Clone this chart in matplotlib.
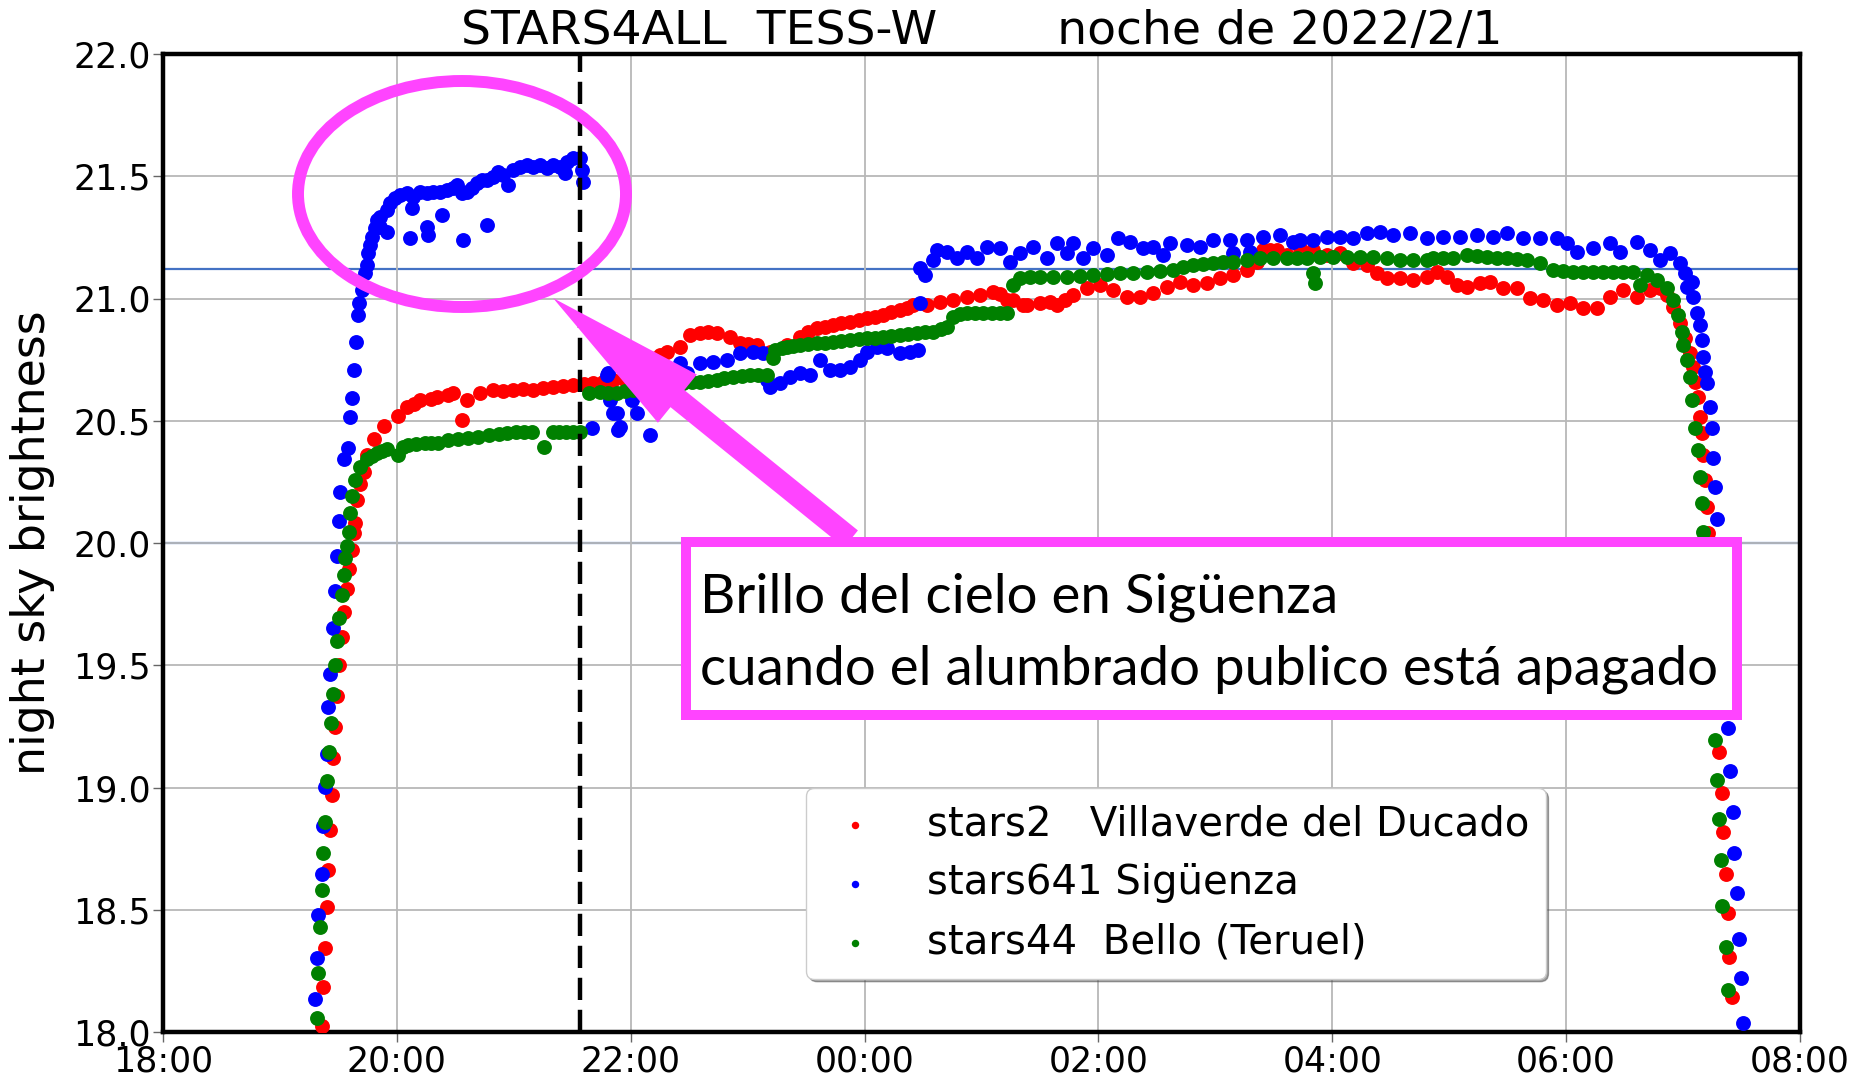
import matplotlib
matplotlib.use("Agg")
import matplotlib.pyplot as plt
from matplotlib.patches import Ellipse, Rectangle, FancyArrow
from matplotlib.transforms import IdentityTransform

# hours on a continuous scale: 24 = midnight, 32 = 08:00 next day
blue_t = [19.299, 19.313, 19.328, 19.356, 19.371, 19.385, 19.400, 19.414, 19.429, 19.457,
          19.472, 19.486, 19.501, 19.515, 19.544, 19.585, 19.599, 19.614, 19.633, 19.650,
          19.671, 19.679, 19.699, 19.728, 19.742, 19.756, 19.770, 19.785, 19.813, 19.827,
          19.856, 19.856, 19.913, 19.913, 19.941, 19.984, 20.027, 20.084, 20.112, 20.126,
          20.141, 20.198, 20.255, 20.255, 20.269, 20.312, 20.369, 20.383, 20.426, 20.483,
          20.511, 20.554, 20.568, 20.597, 20.640, 20.682, 20.725, 20.768, 20.768, 20.825,
          20.868, 20.910, 20.953, 20.996, 21.053, 21.110, 21.167, 21.224, 21.281, 21.338,
          21.395, 21.438, 21.452, 21.509, 21.566, 21.580, 21.594,
          21.666, 21.794, 21.808, 21.823, 21.851, 21.880, 21.894, 21.908, 22.008, 22.051,
          22.165, 22.421, 22.479, 22.593, 22.707, 22.821, 22.935, 23.049, 23.134, 23.163,
          23.191, 23.277, 23.362, 23.448, 23.533, 23.619, 23.704, 23.790, 23.875, 23.961,
          24.018, 24.103, 24.189, 24.303, 24.388, 24.460, 24.474, 24.474, 24.517, 24.588,
          24.616, 24.702, 24.788, 24.873, 24.959, 25.044, 25.158, 25.244, 25.329, 25.443,
          25.557, 25.643, 25.728, 25.785, 25.871, 25.956, 26.070, 26.170, 26.270, 26.384,
          26.469, 26.555, 26.612, 26.754, 26.868, 26.982, 27.125, 27.153, 27.268, 27.296,
          27.410, 27.552, 27.667, 27.724, 27.838, 27.952, 28.066, 28.180, 28.294, 28.408,
          28.522, 28.665, 28.807, 28.950, 29.092, 29.235, 29.377, 29.491, 29.634, 29.776,
          29.919, 30.004, 30.090, 30.232, 30.375, 30.460, 30.603, 30.717, 30.802, 30.888,
          30.973, 31.016, 31.030, 31.073, 31.087, 31.116, 31.145, 31.159, 31.173, 31.187,
          31.202, 31.230, 31.244, 31.259, 31.273, 31.293, 31.387, 31.401, 31.424, 31.438,
          31.458, 31.478, 31.492, 31.515]
blue_v = [18.133, 18.302, 18.479, 18.648, 18.841, 19.002, 19.137, 19.331, 19.465, 19.651,
          19.803, 19.946, 20.089, 20.207, 20.342, 20.387, 20.517, 20.592, 20.708, 20.824,
          20.933, 20.980, 21.035, 21.103, 21.137, 21.185, 21.219, 21.253, 21.287, 21.321,
          21.335, 21.294, 21.362, 21.273, 21.389, 21.410, 21.423, 21.430, 21.246, 21.369,
          21.417, 21.437, 21.430, 21.294, 21.260, 21.437, 21.437, 21.342, 21.444, 21.451,
          21.464, 21.430, 21.239, 21.437, 21.451, 21.471, 21.485, 21.485, 21.301, 21.498,
          21.519, 21.505, 21.464, 21.526, 21.539, 21.546, 21.539, 21.546, 21.532, 21.546,
          21.539, 21.512, 21.560, 21.573, 21.573, 21.526, 21.478,
          20.469, 20.687, 20.694, 20.585, 20.530, 20.530, 20.462, 20.476, 20.585, 20.530,
          20.442, 20.735, 20.694, 20.735, 20.742, 20.749, 20.776, 20.783, 20.776, 20.667,
          20.640, 20.653, 20.680, 20.694, 20.687, 20.749, 20.708, 20.708, 20.721, 20.749,
          20.783, 20.803, 20.796, 20.776, 20.783, 20.789, 20.980, 21.123, 21.096, 21.158,
          21.198, 21.192, 21.164, 21.192, 21.164, 21.212, 21.205, 21.151, 21.185, 21.212,
          21.164, 21.226, 21.185, 21.226, 21.164, 21.205, 21.178, 21.246, 21.233, 21.205,
          21.212, 21.178, 21.226, 21.219, 21.212, 21.239, 21.239, 21.185, 21.239, 21.192,
          21.253, 21.260, 21.233, 21.239, 21.239, 21.253, 21.253, 21.246, 21.267, 21.273,
          21.260, 21.267, 21.246, 21.253, 21.253, 21.260, 21.253, 21.267, 21.246, 21.246,
          21.246, 21.226, 21.192, 21.205, 21.226, 21.192, 21.233, 21.198, 21.158, 21.185,
          21.144, 21.103, 21.048, 21.069, 21.008, 20.939, 20.892, 20.830, 20.762, 20.701,
          20.653, 20.558, 20.469, 20.346, 20.230, 20.097, 19.242, 19.067, 18.898, 18.731,
          18.567, 18.379, 18.220, 18.038]

red_t = [19.356, 19.371, 19.385, 19.400, 19.414, 19.429, 19.443, 19.457, 19.472, 19.486,
         19.509, 19.530, 19.544, 19.573, 19.587, 19.616, 19.631, 19.645, 19.659, 19.688,
         19.717, 19.746, 19.804, 19.890, 20.006, 20.084, 20.150, 20.198, 20.294, 20.340,
         20.439, 20.483, 20.554, 20.597, 20.711, 20.825, 20.910, 20.996, 21.080, 21.167,
         21.250, 21.338, 21.420, 21.509, 21.600, 21.680, 21.760, 21.851, 21.940, 22.022,
         22.165, 22.250, 22.307, 22.421, 22.507, 22.593, 22.660, 22.735, 22.849, 22.935,
         23.000, 23.077, 23.191, 23.334, 23.448, 23.520, 23.590, 23.660, 23.733, 23.800,
         23.875, 23.950, 24.018, 24.090, 24.160, 24.230, 24.303, 24.360, 24.417, 24.531,
         24.645, 24.759, 24.873, 24.987, 25.101, 25.158, 25.215, 25.272, 25.358, 25.386,
         25.500, 25.586, 25.643, 25.715, 25.785, 25.899, 26.013, 26.127, 26.241, 26.355,
         26.469, 26.583, 26.697, 26.811, 26.925, 27.039, 27.153, 27.268, 27.353, 27.410,
         27.470, 27.524, 27.610, 27.724, 27.838, 27.952, 28.066, 28.180, 28.294, 28.379,
         28.465, 28.579, 28.693, 28.807, 28.893, 28.978, 29.064, 29.149, 29.263, 29.349,
         29.463, 29.577, 29.691, 29.805, 29.919, 30.033, 30.147, 30.261, 30.375, 30.489,
         30.603, 30.717, 30.802, 30.859, 30.917, 30.973, 31.016, 31.059, 31.087, 31.102,
         31.130, 31.145, 31.159, 31.173, 31.187, 31.202, 31.216, 31.310, 31.330, 31.344,
         31.364, 31.381, 31.395, 31.415]
red_v = [18.024, 18.184, 18.344, 18.513, 18.664, 18.825, 18.968, 19.120, 19.246, 19.373,
         19.499, 19.617, 19.718, 19.811, 19.895, 19.971, 20.039, 20.081, 20.174, 20.241,
         20.292, 20.359, 20.427, 20.477, 20.519, 20.558, 20.570, 20.585, 20.590, 20.599,
         20.605, 20.612, 20.503, 20.585, 20.612, 20.626, 20.620, 20.626, 20.630, 20.626,
         20.635, 20.640, 20.642, 20.646, 20.650, 20.653, 20.660, 20.667, 20.672, 20.700,
         20.755, 20.770, 20.783, 20.803, 20.851, 20.858, 20.862, 20.858, 20.844, 20.817,
         20.812, 20.810, 20.783, 20.810, 20.844, 20.862, 20.878, 20.885, 20.892, 20.898,
         20.905, 20.912, 20.919, 20.926, 20.933, 20.943, 20.953, 20.963, 20.974, 20.974,
         20.987, 20.994, 21.008, 21.014, 21.028, 21.020, 20.994, 20.994, 20.974, 20.973,
         20.980, 20.987, 20.973, 20.995, 21.014, 21.042, 21.055, 21.035, 21.008, 21.008,
         21.021, 21.048, 21.069, 21.055, 21.062, 21.083, 21.096, 21.117, 21.151, 21.198,
         21.200, 21.198, 21.178, 21.205, 21.198, 21.178, 21.185, 21.144, 21.137, 21.103,
         21.083, 21.083, 21.076, 21.089, 21.110, 21.089, 21.055, 21.048, 21.062, 21.069,
         21.042, 21.042, 21.001, 20.994, 20.973, 20.980, 20.960, 20.960, 21.008, 21.035,
         21.008, 21.035, 21.042, 21.014, 20.967, 20.898, 20.837, 20.776, 20.721, 20.660,
         20.599, 20.517, 20.449, 20.360, 20.258, 20.149, 20.040, 19.147, 18.976, 18.819,
         18.646, 18.485, 18.308, 18.145]

green_t = [19.313, 19.328, 19.342, 19.356, 19.371, 19.385, 19.405, 19.420, 19.434, 19.452,
           19.472, 19.492, 19.509, 19.530, 19.544, 19.558, 19.573, 19.587, 19.602, 19.616,
           19.645, 19.688, 19.746, 19.790, 19.833, 19.876, 19.919, 20.006, 20.050, 20.092,
           20.165, 20.237, 20.295, 20.352, 20.440, 20.525, 20.610, 20.698, 20.785, 20.872,
           20.945, 21.016, 21.090, 21.160, 21.261, 21.333, 21.390, 21.449, 21.510, 21.564,
           21.640, 21.737, 21.810, 21.880, 21.950, 22.022, 22.090, 22.165, 22.235, 22.307,
           22.380, 22.450, 22.520, 22.593, 22.660, 22.735, 22.800, 22.878, 22.950, 23.020,
           23.090, 23.163, 23.220, 23.234, 23.290, 23.334, 23.390, 23.448, 23.520, 23.590,
           23.660, 23.733, 23.800, 23.875, 23.950, 24.018, 24.090, 24.160, 24.230, 24.303,
           24.370, 24.445, 24.520, 24.588, 24.650, 24.702, 24.759, 24.815, 24.873, 24.945,
           25.016, 25.090, 25.158, 25.215, 25.272, 25.329, 25.415, 25.500, 25.614, 25.728,
           25.842, 25.956, 26.070, 26.184, 26.298, 26.412, 26.526, 26.640, 26.725, 26.811,
           26.896, 26.982, 27.068, 27.153, 27.267, 27.381, 27.495, 27.610, 27.695, 27.781,
           27.838, 27.852, 27.895, 28.009, 28.123, 28.237, 28.351, 28.465, 28.579, 28.693,
           28.807, 28.864, 28.950, 29.035, 29.149, 29.235, 29.320, 29.405, 29.491, 29.576,
           29.662, 29.776, 29.890, 29.975, 30.061, 30.146, 30.232, 30.318, 30.403, 30.489,
           30.575, 30.631, 30.688, 30.774, 30.859, 30.917, 30.959, 30.988, 31.002, 31.030,
           31.059, 31.073, 31.102, 31.125, 31.145, 31.159, 31.173, 31.273, 31.293, 31.307,
           31.324, 31.336, 31.367, 31.381]
green_v = [18.057, 18.243, 18.428, 18.580, 18.732, 18.858, 19.027, 19.145, 19.263, 19.381,
           19.499, 19.600, 19.693, 19.786, 19.870, 19.938, 19.988, 20.047, 20.123, 20.191,
           20.258, 20.309, 20.342, 20.356, 20.368, 20.376, 20.384, 20.359, 20.392, 20.401,
           20.405, 20.410, 20.410, 20.410, 20.420, 20.427, 20.430, 20.435, 20.440, 20.444,
           20.448, 20.452, 20.452, 20.452, 20.393, 20.452, 20.452, 20.452, 20.455, 20.452,
           20.615, 20.619, 20.615, 20.612, 20.620, 20.626, 20.630, 20.633, 20.637, 20.640,
           20.647, 20.653, 20.657, 20.660, 20.663, 20.667, 20.673, 20.680, 20.684, 20.687,
           20.687, 20.687, 20.755, 20.789, 20.798, 20.803, 20.806, 20.810, 20.814, 20.817,
           20.820, 20.824, 20.827, 20.830, 20.834, 20.837, 20.840, 20.844, 20.848, 20.851,
           20.855, 20.858, 20.862, 20.865, 20.875, 20.885, 20.926, 20.935, 20.940, 20.940,
           20.940, 20.940, 20.940, 20.939, 21.055, 21.083, 21.086, 21.089, 21.089, 21.089,
           21.093, 21.096, 21.100, 21.103, 21.106, 21.110, 21.113, 21.117, 21.127, 21.137,
           21.140, 21.144, 21.148, 21.151, 21.158, 21.164, 21.164, 21.164, 21.164, 21.164,
           21.103, 21.062, 21.171, 21.171, 21.171, 21.171, 21.171, 21.165, 21.158, 21.158,
           21.158, 21.164, 21.164, 21.164, 21.178, 21.174, 21.171, 21.167, 21.164, 21.161,
           21.158, 21.144, 21.117, 21.113, 21.110, 21.110, 21.110, 21.110, 21.110, 21.110,
           21.110, 21.055, 21.096, 21.076, 21.042, 20.994, 20.933, 20.864, 20.810, 20.749,
           20.680, 20.585, 20.469, 20.380, 20.271, 20.162, 20.046, 19.194, 19.031, 18.870,
           18.704, 18.515, 18.349, 18.172]

series_labels = ["stars2   Villaverde del Ducado", "stars641 Sigüenza", "stars44  Bello (Teruel)"]
hour_ticks = [18, 20, 22, 24, 26, 28, 30, 32]
hour_labels = ["18:00", "20:00", "22:00", "00:00", "02:00", "04:00", "06:00", "08:00"]
lights_off = 21.564          # public lighting switched off in Sigüenza
ref_levels = [21.12, 20.0]

W, H = 1867, 1081
MAGENTA = "#ff44ff"

fig = plt.figure(figsize=(W / 100, H / 100), dpi=100)
ax = fig.add_axes([163 / W, 1 - 1032 / H, 1637 / W, 978 / H])

ax.grid(True, color="#b8b8b8", linewidth=1.3, zorder=0)
for lvl in ref_levels:
    ax.axhline(lvl, color="#4472c4", linewidth=1.6, zorder=1)

dot = 115
h_red = ax.scatter(red_t, red_v, s=dot, color="red", linewidths=0, zorder=3, label=series_labels[0])
h_blue = ax.scatter(blue_t, blue_v, s=dot, color="blue", linewidths=0, zorder=3, label=series_labels[1])
h_green = ax.scatter(green_t, green_v, s=dot, color="green", linewidths=0, zorder=3, label=series_labels[2])

ax.axvline(lights_off, color="black", linewidth=3.2, dashes=(5, 2.2), zorder=4)

ax.set_xlim(18, 32)
ax.set_ylim(18, 22)
ax.set_xticks(hour_ticks)
ax.set_xticklabels(hour_labels)
ax.set_yticks([18 + 0.5 * i for i in range(9)])
ax.set_yticklabels([f"{18 + 0.5 * i:.1f}" for i in range(9)])
ax.tick_params(labelsize=25, length=7, width=1, color="#666666", pad=2)
for sp in ax.spines.values():
    sp.set_linewidth(3.2)

ax.set_ylabel("night sky brightness", fontsize=33)
ax.yaxis.set_label_coords(-0.066, 0.5)
ax.set_title("STARS4ALL  TESS-W        noche de 2022/2/1", fontsize=34, pad=6)

leg = ax.legend(handles=[h_red, h_blue, h_green], loc="upper left",
                bbox_to_anchor=(0.393, 0.2495), borderaxespad=0, markerscale=0.5,
                fontsize=29, fancybox=True, shadow=True,
                framealpha=1, edgecolor="#cccccc", handlelength=1.6,
                handletextpad=1.0, labelspacing=0.48, borderpad=0.4)
leg.set_zorder(5)

# highlight of the Sigüenza plateau and its callout
ident = IdentityTransform()
fig.patches.append(Ellipse((462, H - 194), 328, 226, transform=ident, fill=False,
                           edgecolor=MAGENTA, linewidth=8.6, zorder=6, figure=fig))
fig.patches.append(FancyArrow(851, H - 539, -298, 241, width=22, head_width=62,
                              head_length=160, length_includes_head=True,
                              transform=ident, color=MAGENTA, linewidth=0,
                              zorder=6, figure=fig))
fig.patches.append(Rectangle((686, H - 715), 1051, 173, transform=ident,
                             facecolor="white", edgecolor=MAGENTA, linewidth=7.2,
                             zorder=7, figure=fig))
box_font = ["Lato", "DejaVu Sans"]
fig.text(700 / W, 1 - 613 / H, "Brillo del cielo en Sigüenza", fontsize=39.3,
         family=box_font, zorder=8)
fig.text(700 / W, 1 - 685 / H, "cuando el alumbrado publico está apagado", fontsize=39.3,
         family=box_font, zorder=8)

fig.savefig("out.png", dpi=100)
